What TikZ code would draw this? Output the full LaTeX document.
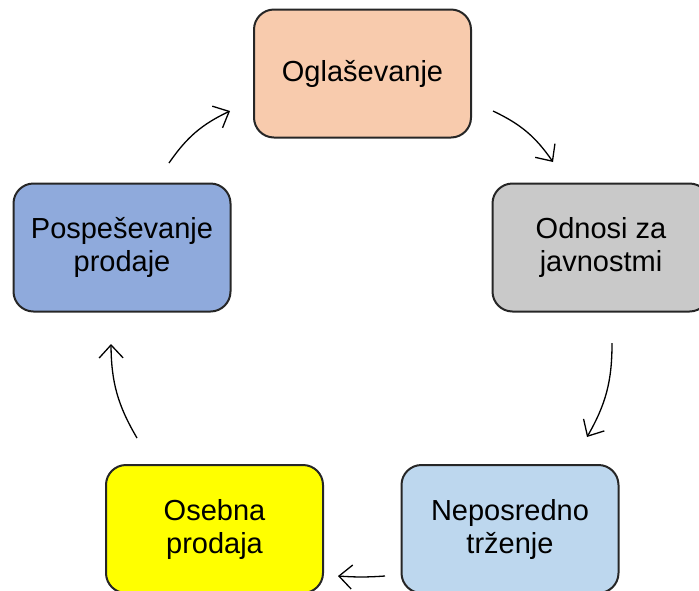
\documentclass[tikz,border=0pt]{standalone}
\usepackage{fontspec}
\setmainfont{Liberation Sans}
\usetikzlibrary{arrows.meta}
\definecolor{peach}{HTML}{F8CBAD}
\definecolor{grey}{HTML}{C9C9C9}
\definecolor{lightblue}{HTML}{BDD7EE}
\definecolor{midblue}{HTML}{8FAADC}
\definecolor{brightyellow}{HTML}{FFFF00}
\begin{document}
\begin{tikzpicture}[x=1pt, y=-1pt,
  box/.style={draw=black!85, line width=2pt, rounded corners=20pt,
    minimum width=217pt, minimum height=128pt, align=center,
    font=\fontsize{29}{33}\selectfont},
  link/.style={line width=1.3pt, -{Straight Barb[length=13pt,width=24pt,line width=1.3pt]}}]
  \useasboundingbox (0,0) rectangle (699,590);
  % the five boxes
  \node[box, fill=peach] (ogl) at (362.5, 73.5) {Oglaševanje};
  \node[box, fill=grey] (odn) at (601, 247.5) {Odnosi za\\javnostmi};
  \node[box, fill=lightblue] (nep) at (510, 529) {Neposredno\\trženje};
  \node[box, fill=brightyellow] (ose) at (214.5, 529) {Osebna\\prodaja};
  \node[box, fill=midblue] (pos) at (122, 247.5) {Pospeševanje\\prodaje};
  % arrow ends
  \coordinate (a1) at (493, 111); \coordinate (b1) at (553, 162);
  \coordinate (a2) at (612, 343); \coordinate (b2) at (587, 437);
  \coordinate (a3) at (385, 576); \coordinate (b3) at (338, 576);
  \coordinate (a4) at (137, 438); \coordinate (b4) at (111, 344);
  \coordinate (a5) at (169, 163); \coordinate (b5) at (230, 111);
  \draw[link] (a1) to[bend left=15] (b1);
  \draw[link] (a2) to[bend left=15] (b2);
  \draw[link] (a3) to[bend left=4] (b3);
  \draw[link] (a4) to[bend left=15] (b4);
  \draw[link] (a5) to[bend left=15] (b5);
\end{tikzpicture}
\end{document}
